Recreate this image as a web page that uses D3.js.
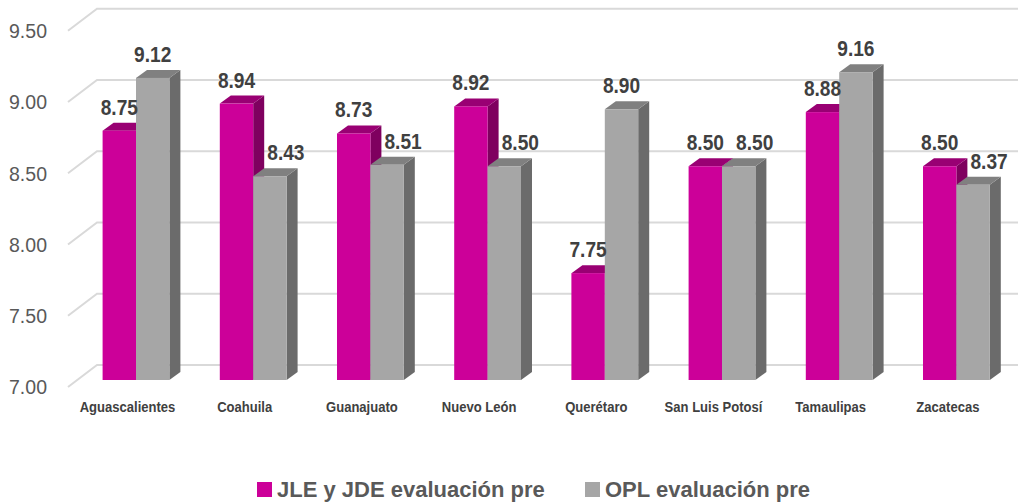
<!DOCTYPE html>
<html>
<head>
<meta charset="utf-8">
<script src="https://cdn.jsdelivr.net/npm/d3@7"></script>
<style>
  html, body { margin: 0; padding: 0; background: #fff; }
  svg { display: block; font-family: "Liberation Sans", Arial, sans-serif; }
</style>
</head>
<body>
<svg id="chart" width="1018" height="503"></svg>
<script>
// data
const categories = ["Aguascalientes", "Coahuila", "Guanajuato", "Nuevo León", "Querétaro", "San Luis Potosí", "Tamaulipas", "Zacatecas"];
const seriesNames = ["JLE y JDE evaluación pre", "OPL evaluación pre"];
const jleValues = [8.75, 8.94, 8.73, 8.92, 7.75, 8.50, 8.88, 8.50];
const oplValues = [9.12, 8.43, 8.51, 8.50, 8.90, 8.50, 9.16, 8.37];
const tickValues = [7.00, 7.50, 8.00, 8.50, 9.00, 9.50];

// colours: front, top, side
const palette = [
  { front: "#cc0099", top: "#990073", side: "#7f005f" },
  { front: "#a6a6a6", top: "#808080", side: "#6b6b6b" }
];

const W = 1018, H = 503;
const DX = 11, DY = -8;          // bar depth offset
const SQ = 0.87;                 // horizontal squeeze of the chart text

const svg = d3.select("#chart");

const x = d3.scaleBand()
  .domain(categories)
  .range([77.4, 1015])
  .paddingInner(0.43)
  .paddingOuter(0.215);

const xs = d3.scaleBand()
  .domain(d3.range(seriesNames.length))
  .range([0, x.bandwidth()]);

const y = d3.scaleLinear().domain([7, 9.5]).range([380, 23.75]);

// walls: gridlines on back wall, diagonal on the side wall
const grid = svg.append("g");
tickValues.forEach(v => {
  const yf = y(v) + 7, yb = y(v) - 15;
  grid.append("path")
    .attr("d", `M68,${yf}L97,${yb}L${W},${yb}`)
    .attr("fill", "none")
    .attr("stroke", "#d9d9d9")
    .attr("stroke-width", 2);
  grid.append("text")
    .attr("transform", `translate(47,${yf}) scale(${SQ + 0.06},1)`)
    .attr("text-anchor", "end")
    .attr("dy", "0.35em")
    .attr("fill", "#595959")
    .style("font-size", "21px")
    .text(d3.format(".2f")(v));
});

const rows = categories.map((c, i) => ({ cat: c, vals: [jleValues[i], oplValues[i]] }));

const bars = svg.append("g");
rows.forEach(r => {
  r.vals.forEach((v, s) => {
    const x0 = x(r.cat) + xs(s), w = xs.bandwidth();
    const yt = y(v), yb = y(7);
    const g = bars.append("g");
    g.append("path") // side
      .attr("d", `M${x0 + w},${yt}L${x0 + w + DX},${yt + DY}L${x0 + w + DX},${yb + DY}L${x0 + w},${yb}Z`)
      .attr("fill", palette[s].side);
    g.append("path") // top
      .attr("d", `M${x0},${yt}L${x0 + DX},${yt + DY}L${x0 + w + DX},${yt + DY}L${x0 + w},${yt}Z`)
      .attr("fill", palette[s].top);
    g.append("rect") // front
      .attr("x", x0).attr("y", yt)
      .attr("width", w).attr("height", yb - yt)
      .attr("fill", palette[s].front);
  });
});

// value labels; the second label moves right when the first bar is not lower
const labels = svg.append("g");
rows.forEach(r => {
  r.vals.forEach((v, s) => {
    let cx = x(r.cat) + xs(s) + xs.bandwidth() / 2;
    if (s === 1 && v <= r.vals[0]) cx += 16;
    labels.append("text")
      .attr("transform", `translate(${cx},${y(v) - 16}) scale(${SQ},1)`)
      .attr("text-anchor", "middle")
      .attr("fill", "#404040")
      .style("font-size", "22px")
      .style("font-weight", "bold")
      .text(d3.format(".2f")(v));
  });
});

// category labels
svg.append("g").selectAll("text")
  .data(categories)
  .join("text")
  .attr("transform", d => `translate(${x(d) + x.bandwidth() / 2 - 8.5},412) scale(${SQ},1)`)
  .attr("text-anchor", "middle")
  .attr("fill", "#404040")
  .style("font-size", "15px")
  .style("font-weight", "bold")
  .text(d => d);

// legend
const legendX = [257, 585];
const legend = svg.append("g");
seriesNames.forEach((name, i) => {
  legend.append("rect")
    .attr("x", legendX[i]).attr("y", 482)
    .attr("width", 15).attr("height", 15)
    .attr("fill", palette[i].front);
  legend.append("text")
    .attr("x", legendX[i] + 20)
    .attr("y", 497)
    .attr("fill", "#595959")
    .style("font-size", "22px")
    .style("font-weight", "bold")
    .text(name);
});
</script>
</body>
</html>
